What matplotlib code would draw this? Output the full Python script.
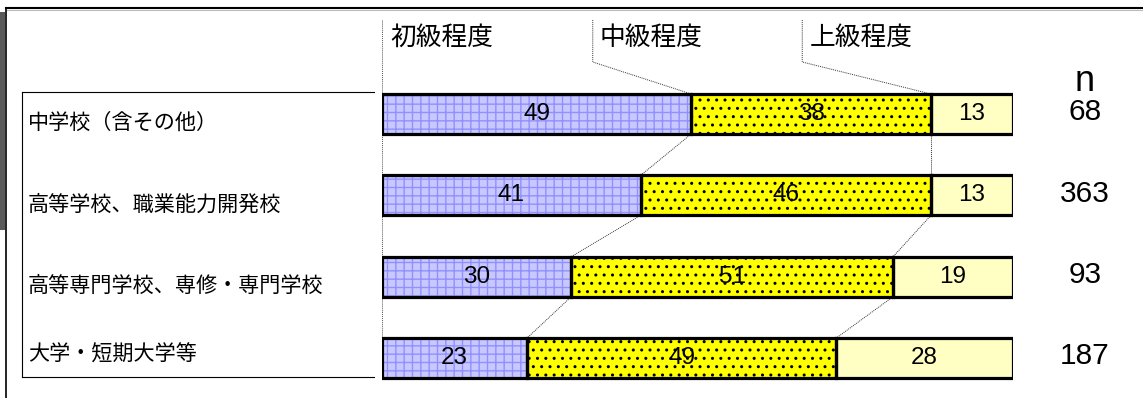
import matplotlib.pyplot as plt
import numpy as np

plt.rcParams['font.family'] = ['Liberation Sans', 'Noto Sans CJK JP']
plt.rcParams['hatch.linewidth'] = 1.0

categories = ['中学校（含その他）', '高等学校、職業能力開発校',
              '高等専門学校、専修・専門学校', '大学・短期大学等']
levels = ['初級程度', '中級程度', '上級程度']
beginner = [49, 41, 30, 23]
intermediate = [38, 46, 51, 49]
advanced = [13, 13, 19, 28]
n_values = [68, 363, 93, 187]

face_colors = ['#c8c8ff', '#ffff00', '#ffffc4']
hatch_colors = ['#9090ff', '#000000', None]
hatches = ['++', '..', None]

W, H = 1143, 398
fig = plt.figure(figsize=(W / 100, H / 100), dpi=100)

# background layer in pixel coords (frame, label box)
bg = fig.add_axes([0, 0, 1, 1])
bg.set_xlim(0, W)
bg.set_ylim(H, 0)
bg.axis('off')
bg.add_patch(plt.Rectangle((0, 12), 5, 218, color='#5a5a5a', lw=0))
bg.plot([6, W], [8, 8], color='black', lw=1.5)
bg.plot([6, W], [10, 10], color='#bbbbbb', lw=0.8)
bg.plot([6, 6], [8, H], color='black', lw=1.2)
bg.plot([22, 374], [92, 92], color='black', lw=0.8)
bg.plot([22, 374], [377, 377], color='black', lw=0.8)
bg.plot([22, 22], [92, 377], color='black', lw=0.8)

# main axes: x 0..100 maps to pixels 382..1013
pitch = 81.33
ax = fig.add_axes([382 / W, 0, 631 / W, 378 / H])
ax.patch.set_alpha(0)
ax.set_xlim(0, 100)
ax.set_ylim(3 + 40 / pitch, -(114 - 20) / pitch)
ax.axis('off')

y = np.arange(len(categories))
h = 40 / pitch
series = [beginner, intermediate, advanced]
left = np.zeros(len(categories))
bounds = []
for k, vals in enumerate(series):
    vals = np.array(vals)
    if hatches[k]:
        ax.barh(y, vals, left=left, height=h, color=face_colors[k],
                edgecolor=hatch_colors[k], hatch=hatches[k], lw=0, zorder=2)
    else:
        ax.barh(y, vals, left=left, height=h, color=face_colors[k], lw=0, zorder=2)
    ax.barh(y, vals, left=left, height=h, fill=False, edgecolor='black',
            lw=2.3, zorder=3)
    for yi, l, v in zip(y, left, vals):
        ax.text(l + v / 2, yi, str(v), ha='center', va='center',
                fontsize=17.5, zorder=4)
    left = left + vals
    bounds.append(left.copy())

ytop = ax.get_ylim()[1]
# grid lines at 0 and 100
for xv in [0, 100]:
    ax.plot([xv, xv], [ytop, 3 + h / 2], color='#555555', lw=0.7,
            ls=(0, (1, 1)), zorder=1)

# series lines between rows
for b in bounds[:2]:
    for i in range(len(categories) - 1):
        ax.plot([b[i], b[i + 1]], [i + h / 2, i + 1 - h / 2], color='#333333',
                lw=0.7, ls=(0, (1, 1)), zorder=1)

# level labels and leader lines
label_x = [1.3, 34.5, 67.8]
leader_x = [None, 33.4, 66.6]
y_leader = ytop + 42 / pitch
for k, name in enumerate(levels):
    ax.text(label_x[k], ytop + 18 / pitch, name, ha='left', va='center',
            fontsize=18.5, clip_on=False)
    if leader_x[k] is not None:
        ax.plot([leader_x[k], leader_x[k], bounds[k - 1][0]],
                [ytop, y_leader, -h / 2], color='#333333', lw=0.7,
                ls=(0, (1, 1)), zorder=1, clip_on=False)

# category labels
label_dy = [0.1, 0.11, 0.11, -0.04]
for yi, cat, dy in zip(y, categories, label_dy):
    ax.text(-56.1, yi + dy, cat, ha='left', va='center', fontsize=15.2,
            clip_on=False)

# n column
ax.text(111.4, -0.4, 'n', ha='center', va='center', fontsize=26, clip_on=False)
for yi, n in zip(y, n_values):
    ax.text(111.4, yi - 0.02, str(n), ha='center', va='center', fontsize=21.5,
            clip_on=False)

fig.savefig('out.png', dpi=100)
